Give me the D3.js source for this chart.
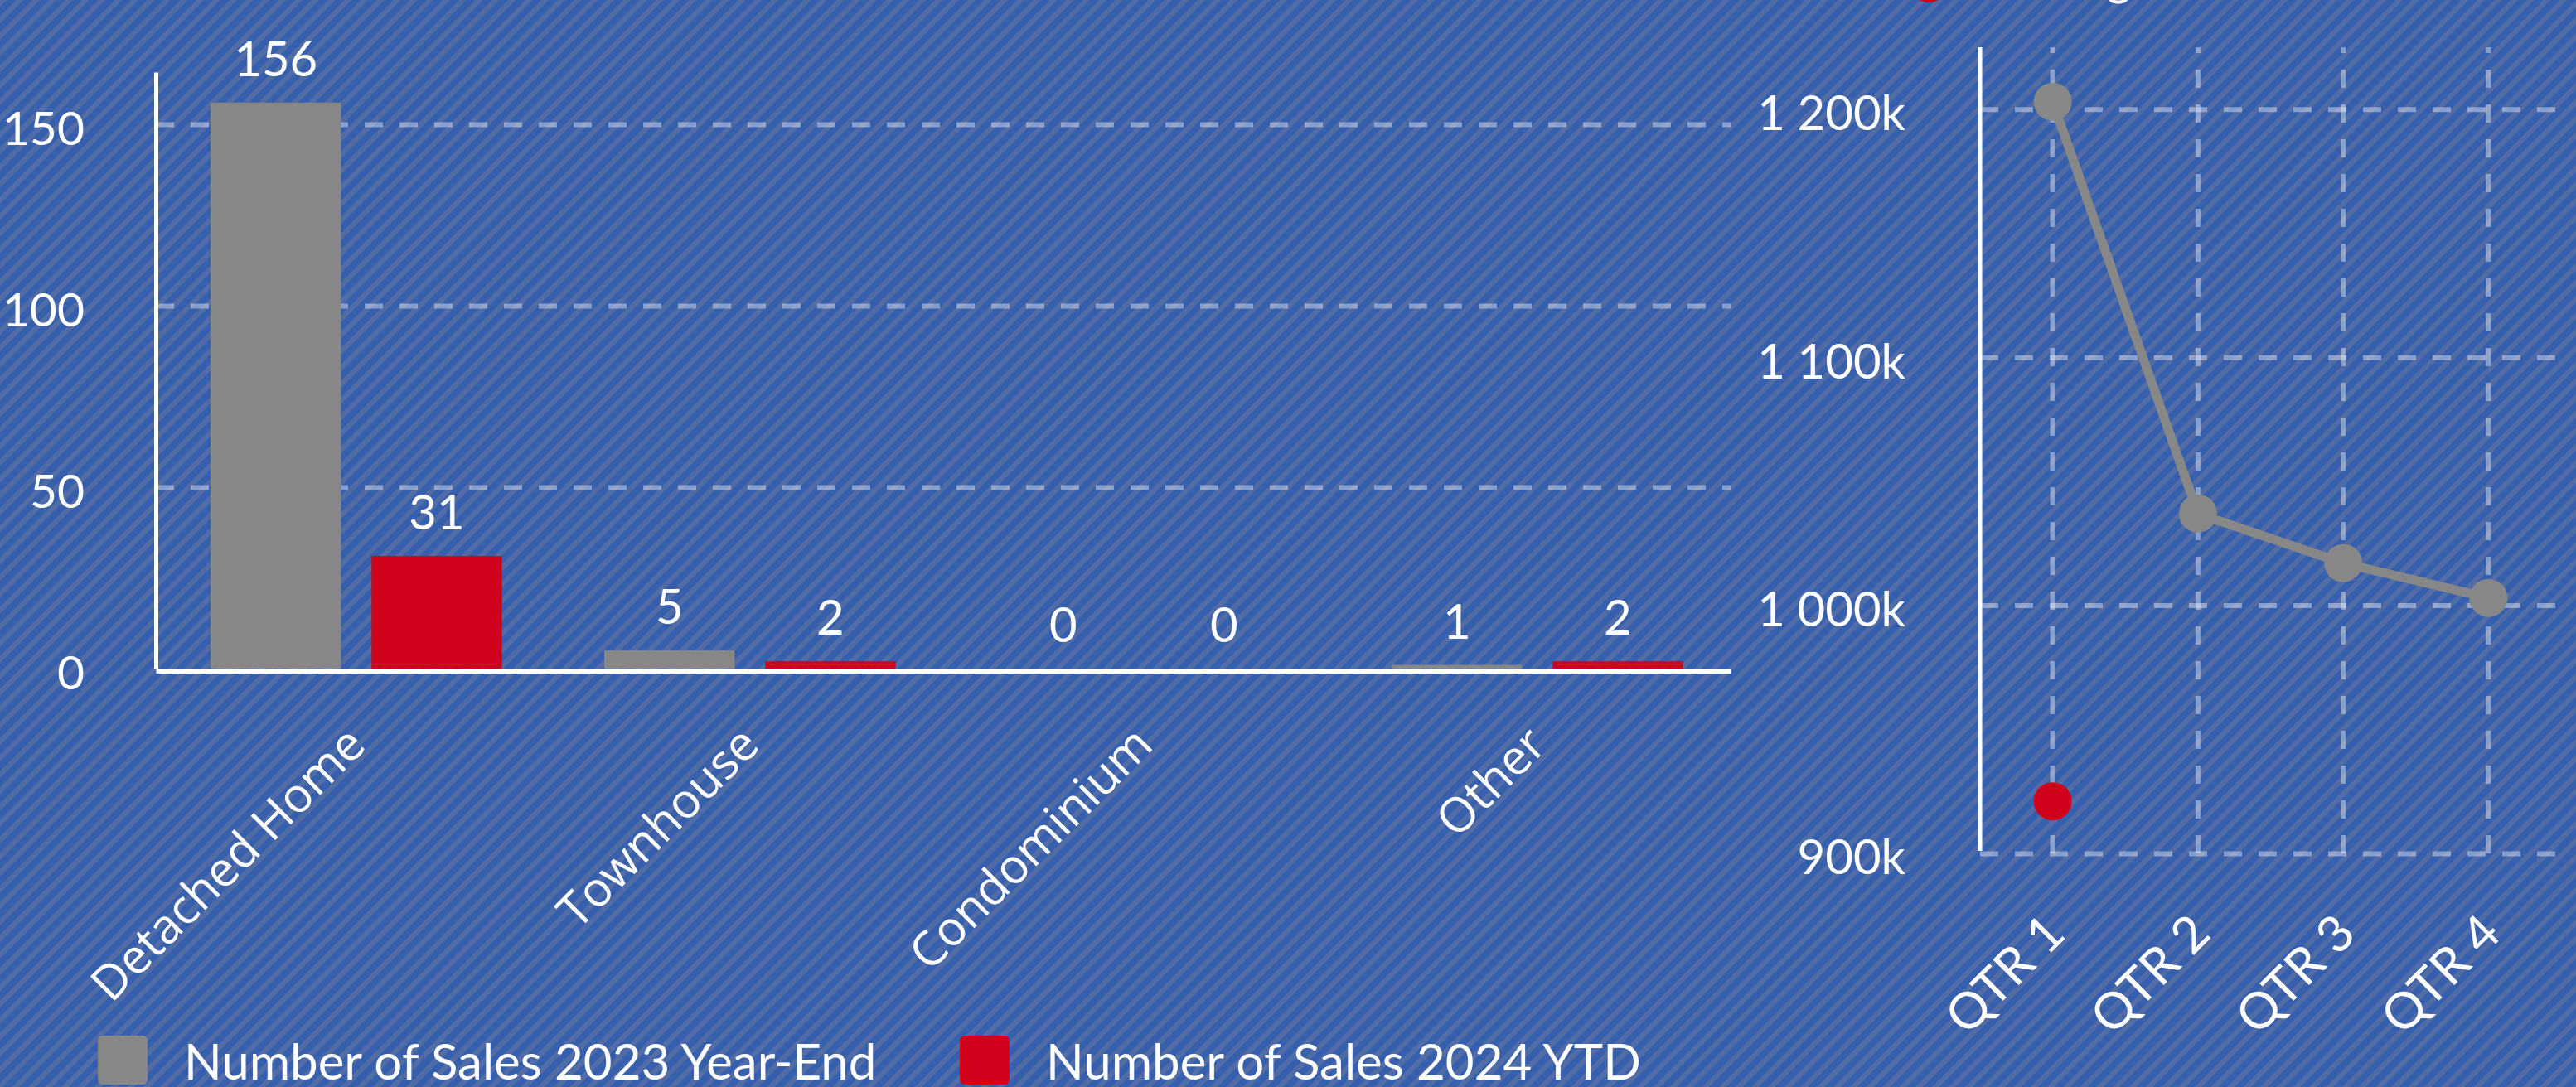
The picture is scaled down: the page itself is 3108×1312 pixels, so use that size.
<!DOCTYPE html>
<html>
<head>
<meta charset="utf-8">
<script src="https://cdn.jsdelivr.net/npm/d3@7"></script>
<style>
  html, body { margin: 0; padding: 0; background: #3761ad; overflow: hidden; }
  svg { display: block; }
</style>
</head>
<body>
<svg id="chart" width="3108" height="1312"></svg>
<script>

// bar chart data : number of sales by property type
var categories = ['Detached Home', 'Townhouse', 'Condominium', 'Other'];
var sales_2023 = [156, 5, 0, 1];
var sales_2024 = [31, 2, 0, 2];
var sales_ticks = [0, 50, 100, 150];
var sales_series = ['Number of Sales 2023 Year-End', 'Number of Sales 2024 YTD'];

// line chart data : average sale price by quarter
var quarters = ['QTR 1', 'QTR 2', 'QTR 3', 'QTR 4'];
var price_2023 = [1203000, 1037000, 1017000, 1003000];
var price_2024 = [921000];
var price_ticks = [900000, 1000000, 1100000, 1200000];
var price_series = ['Average Sale Price 2024'];


/**
 * sales dashboard container
 */
var app_sales_chart = (function () {

  var svg = d3.select('#chart');
  var width = 3108, height = 1312;

  var color_grey = '#878787';
  var color_red = '#d0021b';
  var grid_color = 'rgba(255,255,255,0.4)';
  var num_font = 'Lato, "Open Sans", sans-serif';
  var cat_font = '"Open Sans", Lato, sans-serif';

  var price_locale = d3.formatLocale({ decimal: '.', thousands: ' ', grouping: [3], currency: ['', ''] });
  var price_format = function (d) {
    return price_locale.format(',')(d / 1000) + 'k';
  };

  function drawBackground() {
    var pattern = svg.append('defs').append('pattern')
      .attr('id', 'bg_stripes')
      .attr('patternUnits', 'userSpaceOnUse')
      .attr('width', 14)
      .attr('height', 14)
      .attr('patternTransform', 'rotate(45)');
    pattern.append('rect').attr('width', 14).attr('height', 14).attr('fill', '#3660ad');
    pattern.append('rect').attr('width', 6).attr('height', 14).attr('fill', '#526ca6');

    svg.append('rect')
      .attr('width', width)
      .attr('height', height)
      .attr('fill', 'url(#bg_stripes)');
  }

  function styleGrid(g) {
    g.select('.domain').remove();
    g.selectAll('.tick line')
      .attr('stroke', grid_color)
      .attr('stroke-width', 6)
      .attr('stroke-dasharray', '22,20');
  }

  function drawBarChart() {
    var x0 = d3.scaleBand()
      .domain(categories)
      .range([188, 2088])
      .paddingInner(0.26)
      .paddingOuter(0.13)
      .align(0.535);

    var x1 = d3.scaleBand()
      .domain([0, 1])
      .range([0, x0.bandwidth()])
      .paddingInner(0.19);

    var y = d3.scaleLinear()
      .domain([0, 164.4])
      .range([807, 87]);

    var g = svg.append('g').attr('class', 'bar_chart');

    // horizontal grid
    g.append('g')
      .attr('transform', 'translate(188,0)')
      .call(d3.axisLeft(y).tickValues(sales_ticks.slice(1)).tickSize(-(2088 - 188)).tickFormat(''))
      .call(styleGrid);

    // y axis
    var y_axis = g.append('g')
      .attr('transform', 'translate(188,0)')
      .call(d3.axisLeft(y).tickValues(sales_ticks).tickSize(0).tickSizeOuter(0).tickPadding(86));
    y_axis.select('.domain').attr('stroke', '#ffffff').attr('stroke-width', 5);
    y_axis.selectAll('text')
      .attr('dy', '0.43em')
      .attr('fill', '#ffffff')
      .style('font-family', num_font)
      .style('font-size', '57px');

    // bars
    var rows = categories.map(function (c, i) {
      return { key: c, values: [sales_2023[i], sales_2024[i]] };
    });

    var group = g.append('g').selectAll('g')
      .data(rows)
      .enter()
      .append('g')
      .attr('transform', function (d) { return 'translate(' + x0(d.key) + ',0)'; });

    group.selectAll('rect')
      .data(function (d) { return d.values; })
      .enter()
      .append('rect')
      .attr('x', function (d, i) { return x1(i); })
      .attr('y', function (d) { return y(d); })
      .attr('width', x1.bandwidth())
      .attr('height', function (d) { return y(0) - y(d); })
      .attr('fill', function (d, i) { return i == 0 ? color_grey : color_red; });

    group.selectAll('text')
      .data(function (d) { return d.values; })
      .enter()
      .append('text')
      .attr('x', function (d, i) { return x1(i) + x1.bandwidth() / 2; })
      .attr('y', function (d) { return y(d) - 32; })
      .attr('text-anchor', 'middle')
      .attr('fill', '#ffffff')
      .style('font-family', num_font)
      .style('font-size', '58px')
      .text(function (d) { return d; });

    // x axis
    var x_axis = g.append('g')
      .attr('transform', 'translate(0,810)')
      .call(d3.axisBottom(x0).tickSize(0).tickSizeOuter(0));
    x_axis.select('.domain').attr('stroke', '#ffffff').attr('stroke-width', 5);
    x_axis.selectAll('text')
      .attr('x', 0)
      .attr('y', 0)
      .attr('dy', 0)
      .attr('transform', 'translate(14,92) rotate(-45)')
      .style('text-anchor', 'end')
      .attr('fill', '#ffffff')
      .style('font-family', cat_font)
      .style('font-size', '58px');

    // legend
    var legend = g.append('g').selectAll('g')
      .data(sales_series)
      .enter()
      .append('g')
      .attr('transform', function (d, i) { return 'translate(' + (i == 0 ? 118 : 1158) + ',1250)'; });

    legend.append('rect')
      .attr('width', 60)
      .attr('height', 59)
      .attr('rx', 6)
      .attr('fill', function (d, i) { return i == 0 ? color_grey : color_red; });

    legend.append('text')
      .attr('x', 104)
      .attr('y', 53)
      .attr('fill', '#ffffff')
      .style('font-family', num_font)
      .style('font-size', '60px')
      .text(function (d) { return d; });
  }

  function drawLineChart() {
    var x = d3.scaleBand()
      .domain(quarters)
      .range([2389, 3090]);

    var y = d3.scaleLinear()
      .domain([900000, 1225000])
      .range([1030, 57]);

    var cx = function (d, i) { return x(quarters[i]) + x.bandwidth() / 2; };

    var g = svg.append('g').attr('class', 'line_chart');

    // grid
    g.append('g')
      .attr('transform', 'translate(0,1030)')
      .call(d3.axisBottom(x).tickSize(-(1030 - 57)).tickFormat(''))
      .call(styleGrid);

    g.append('g')
      .attr('transform', 'translate(2389,0)')
      .call(d3.axisLeft(y).tickValues(price_ticks).tickSize(-(3090 - 2389)).tickFormat(''))
      .call(styleGrid);

    // y axis
    var y_axis = g.append('g')
      .attr('transform', 'translate(2389,0)')
      .call(d3.axisLeft(y).tickValues(price_ticks).tickSize(0).tickPadding(90).tickFormat(price_format));
    y_axis.select('.domain').attr('d', 'M0,' + y.range()[1] + 'V' + (y.range()[0] - 3))
      .attr('stroke', '#ffffff').attr('stroke-width', 5);
    y_axis.selectAll('text')
      .attr('dy', '0.43em')
      .attr('fill', '#ffffff')
      .style('font-family', num_font)
      .style('font-size', '58px');

    // x axis labels
    var x_axis = g.append('g')
      .attr('transform', 'translate(0,1030)')
      .call(d3.axisBottom(x).tickSize(0));
    x_axis.select('.domain').remove();
    x_axis.selectAll('text')
      .attr('x', 0)
      .attr('y', 0)
      .attr('dy', 0)
      .attr('transform', 'translate(18,100) rotate(-45)')
      .style('text-anchor', 'end')
      .attr('fill', '#ffffff')
      .style('font-family', num_font)
      .style('font-size', '61px');

    // 2023 line
    var line = d3.line()
      .x(cx)
      .y(function (d) { return y(d); });

    g.append('path')
      .datum(price_2023)
      .attr('d', line)
      .attr('fill', 'none')
      .attr('stroke', color_grey)
      .attr('stroke-width', 11);

    g.append('g').selectAll('circle')
      .data(price_2023)
      .enter()
      .append('circle')
      .attr('cx', cx)
      .attr('cy', function (d) { return y(d); })
      .attr('r', 23)
      .attr('fill', color_grey);

    // 2024 points
    g.append('g').selectAll('circle')
      .data(price_2024)
      .enter()
      .append('circle')
      .attr('cx', cx)
      .attr('cy', function (d) { return y(d); })
      .attr('r', 23)
      .attr('fill', color_red);

    // legend (cut off at the top edge)
    var legend = g.append('g').attr('transform', 'translate(2327,-20)');
    legend.append('circle').attr('r', 23).attr('fill', color_red);
    legend.append('text')
      .attr('x', 68)
      .attr('y', 14)
      .attr('fill', '#ffffff')
      .style('font-family', num_font)
      .style('font-size', '58px')
      .text(price_series[0]);
  }

  function render() {
    drawBackground();
    drawBarChart();
    drawLineChart();
  }

  return {
    'render' : render
  }

}());

app_sales_chart.render();

</script>
</body>
</html>
